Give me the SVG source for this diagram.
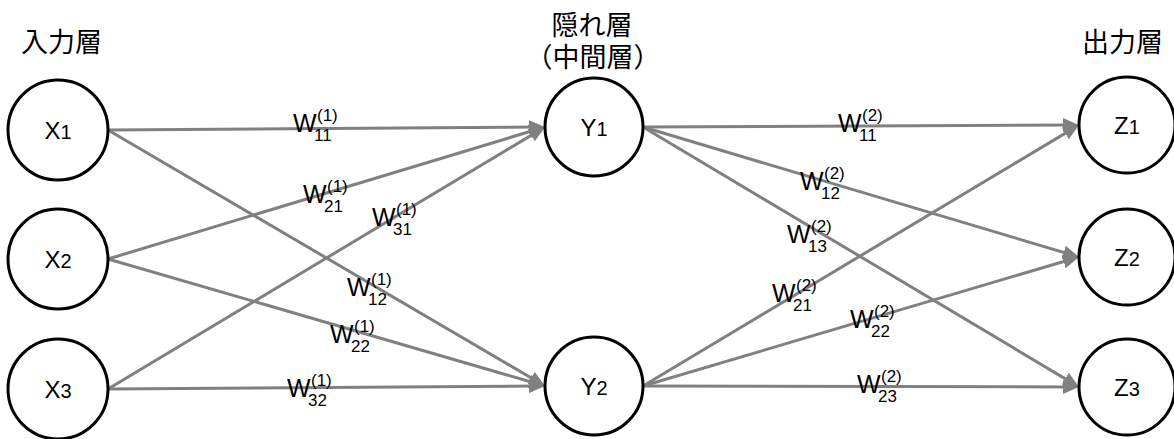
<svg xmlns="http://www.w3.org/2000/svg" width="1174" height="439" viewBox="0 0 1174 439">
<style>
.node{fill:#fff;stroke:#000;stroke-width:3}
.nl{font-family:"Liberation Sans",Arial,sans-serif;font-size:24px;fill:#000;text-anchor:middle}
.nl .i{font-size:20px}
.hdr{font-family:"Noto Sans CJK JP",sans-serif;font-size:27px;fill:#000}
.edge{stroke:#808080;stroke-width:3;fill:none;marker-end:url(#arr)}
.w{font-family:"Liberation Sans",Arial,sans-serif;font-size:25px;fill:#000}
.s{font-family:"Liberation Sans",Arial,sans-serif;font-size:17px;fill:#000}
</style>
<defs>
<marker id="arr" markerUnits="userSpaceOnUse" viewBox="0 0 16 14" refX="8" refY="7" markerWidth="16" markerHeight="14" orient="auto">
<path d="M0,0 L16,7 L0,14 z" fill="#808080"/>
</marker>
</defs>
<rect width="1174" height="439" fill="#fff"/>
<g id="headers">
<text class="hdr" x="21" y="52">入力層</text>
<text class="hdr" text-anchor="middle"><tspan x="592" y="35">隠れ層</tspan><tspan x="593" y="67">（中間層）</tspan></text>
<text class="hdr" x="1082" y="52">出力層</text>
</g>
<g id="connectors">
<path class="edge" d="M108,130 L537,127.05"/>
<path class="edge" d="M108,130 L538.1,381.96"/>
<path class="edge" d="M108,259 L537.34,129.31"/>
<path class="edge" d="M108,259 L537.32,383.77"/>
<path class="edge" d="M108,389 L538.14,131.11"/>
<path class="edge" d="M108,389 L537,386.05"/>
<path class="edge" d="M643,127 L1071,125.04"/>
<path class="edge" d="M643,127 L1071.33,254.71"/>
<path class="edge" d="M643,127 L1072.13,382.9"/>
<path class="edge" d="M643,386 L1072.14,129.11"/>
<path class="edge" d="M643,386 L1071.33,259.27"/>
<path class="edge" d="M643,386 L1071,386.98"/>
</g>
<g id="weights">
<g id="w11-1"><text class="w" x="293" y="132">W</text><text class="s" x="314" y="141">11</text><text class="s" x="317" y="121">(1)</text></g>
<g id="w21-1"><text class="w" x="303" y="203">W</text><text class="s" x="324" y="212">21</text><text class="s" x="327" y="192">(1)</text></g>
<g id="w31-1"><text class="w" x="372" y="226">W</text><text class="s" x="393" y="235">31</text><text class="s" x="396" y="215">(1)</text></g>
<g id="w12-1"><text class="w" x="347" y="296">W</text><text class="s" x="368" y="305">12</text><text class="s" x="371" y="285">(1)</text></g>
<g id="w22-1"><text class="w" x="330" y="343">W</text><text class="s" x="351" y="352">22</text><text class="s" x="354" y="332">(1)</text></g>
<g id="w32-1"><text class="w" x="287" y="397">W</text><text class="s" x="308" y="406">32</text><text class="s" x="311" y="386">(1)</text></g>
<g id="w11-2"><text class="w" x="838" y="132">W</text><text class="s" x="859" y="141">11</text><text class="s" x="862" y="121">(2)</text></g>
<g id="w12-2"><text class="w" x="800" y="190">W</text><text class="s" x="821" y="199">12</text><text class="s" x="824" y="179">(2)</text></g>
<g id="w13-2"><text class="w" x="787" y="243">W</text><text class="s" x="808" y="252">13</text><text class="s" x="811" y="232">(2)</text></g>
<g id="w21-2"><text class="w" x="772" y="302">W</text><text class="s" x="793" y="311">21</text><text class="s" x="796" y="291">(2)</text></g>
<g id="w22-2"><text class="w" x="850" y="328">W</text><text class="s" x="871" y="337">22</text><text class="s" x="874" y="317">(2)</text></g>
<g id="w23-2"><text class="w" x="857" y="393">W</text><text class="s" x="878" y="402">23</text><text class="s" x="881" y="382">(2)</text></g>
</g>
<g id="X1"><circle class="node" cx="58" cy="130" r="50"/><text class="nl" x="58" y="139">X<tspan class="i">1</tspan></text></g>
<g id="X2"><circle class="node" cx="58" cy="259" r="50"/><text class="nl" x="58" y="268">X<tspan class="i">2</tspan></text></g>
<g id="X3"><circle class="node" cx="58" cy="389" r="50"/><text class="nl" x="58" y="398">X<tspan class="i">3</tspan></text></g>
<g id="Y1"><circle class="node" cx="594" cy="127" r="49"/><text class="nl" x="594" y="136">Y<tspan class="i">1</tspan></text></g>
<g id="Y2"><circle class="node" cx="594" cy="386" r="49"/><text class="nl" x="594" y="395">Y<tspan class="i">2</tspan></text></g>
<g id="Z1"><circle class="node" cx="1127" cy="125" r="48"/><text class="nl" x="1127" y="134">Z<tspan class="i">1</tspan></text></g>
<g id="Z2"><circle class="node" cx="1127" cy="257" r="48"/><text class="nl" x="1127" y="266">Z<tspan class="i">2</tspan></text></g>
<g id="Z3"><circle class="node" cx="1127" cy="387" r="48"/><text class="nl" x="1127" y="396">Z<tspan class="i">3</tspan></text></g>
</svg>
